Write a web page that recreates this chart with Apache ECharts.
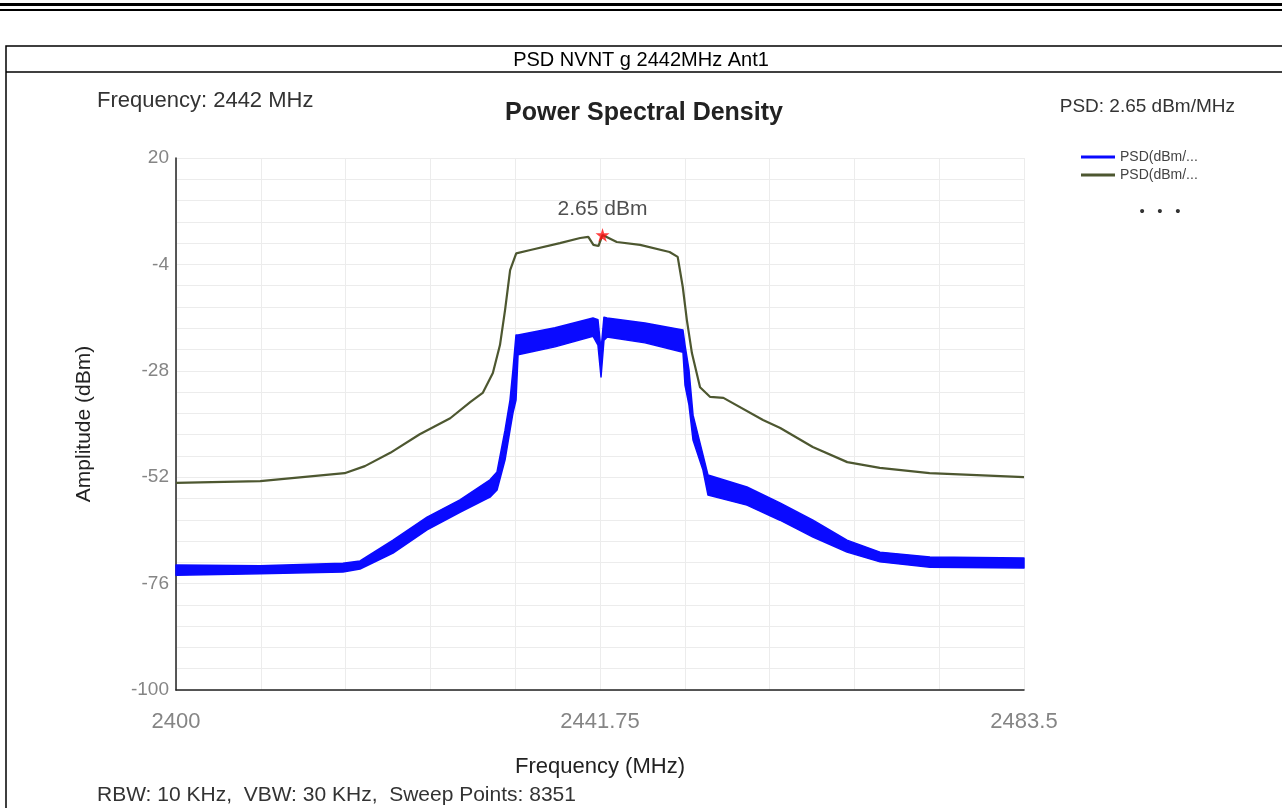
<!DOCTYPE html>
<html>
<head>
<meta charset="utf-8">
<script src="https://cdn.jsdelivr.net/npm/echarts@6/dist/echarts.min.js"></script>
<style>
html,body{margin:0;padding:0;background:#fff;}
#chart{width:1282px;height:808px;}
</style>
</head>
<body>
<div id="chart"></div>
<script>
// ---- data ----
const xTickLabels = [2400, 2441.75, 2483.5];
const yTicks = [-100, -76, -52, -28, -4, 20];

// max-hold trace (olive)
const freqGreen = [2400.0, 2408.3, 2416.6, 2418.6, 2421.1, 2424.0, 2427.0, 2429.0, 2430.2, 2431.2, 2431.9, 2432.4, 2432.9, 2433.5, 2434.9, 2437.8, 2439.8, 2440.6, 2441.1, 2441.6, 2442.0, 2443.4, 2445.7, 2448.6, 2449.4, 2449.9, 2450.3, 2450.8, 2451.6, 2452.6, 2453.9, 2457.8, 2459.5, 2462.7, 2466.1, 2469.3, 2474.2, 2483.5];
const psdGreen  = [-53.3, -52.9, -51.1, -49.5, -46.5, -42.3, -38.7, -35.0, -33.0, -28.5, -22.2, -14.3, -5.3, -1.5, -0.75, 0.8, 1.95, 2.2, 0.4, 0.15, 2.65, 1.05, 0.4, -1.2, -2.3, -9.1, -16.5, -24.0, -31.7, -33.9, -34.1, -39.1, -40.9, -45.2, -48.6, -49.9, -51.1, -52.0];

// noisy trace (blue) read as upper / lower envelope of the band
const freqBlue  = [2400.0, 2408.27, 2416.44, 2418.12, 2421.37, 2424.72, 2427.96, 2430.92, 2431.61, 2432.40, 2432.89, 2433.18, 2433.48, 2433.68, 2437.32, 2441.06, 2441.55, 2441.85, 2442.14, 2442.44, 2446.18, 2449.92, 2450.12, 2450.51, 2450.91, 2451.89, 2452.38, 2456.22, 2459.47, 2462.72, 2466.07, 2469.32, 2474.24, 2483.5];
const blueUpper = [-71.8, -72.0, -71.4, -70.9, -66.2, -61.0, -57.1, -52.6, -50.8, -41.4, -34.6, -27.8, -19.9, -19.9, -18.3, -16.1, -16.5, -23.3, -15.9, -16.1, -17.2, -18.8, -22.2, -27.8, -38.0, -47.0, -51.5, -54.2, -57.8, -61.7, -66.2, -68.9, -70.0, -70.2];
const blueLower = [-74.1, -73.8, -73.4, -72.7, -69.1, -63.9, -59.9, -56.5, -54.9, -48.1, -41.4, -37.5, -34.6, -24.4, -22.6, -20.2, -22.2, -29.4, -21.1, -20.4, -21.7, -23.8, -31.2, -35.7, -43.6, -50.4, -56.0, -58.3, -61.7, -65.5, -68.9, -71.1, -72.3, -72.5];

const peakFreq = 2442.0;
const peakVal = 2.65;

const seriesNames = ['PSD(dBm/MHz)', 'PSD(dBm/MHz) MaxHold'];

// ---- chart ----
const chart = echarts.init(document.getElementById('chart'), null, {renderer: 'canvas'});
const FONT = '"Liberation Sans", Arial, sans-serif';

const greenData = freqGreen.map((f, i) => [f, psdGreen[i]]);

const BLUE = '#0a0aff';
const OLIVE = '#4d5730';

function renderBand(params, api) {
  const pts = [];
  for (let i = 0; i < freqBlue.length; i++) pts.push(api.coord([freqBlue[i], blueUpper[i]]));
  for (let i = freqBlue.length - 1; i >= 0; i--) pts.push(api.coord([freqBlue[i], blueLower[i]]));
  return {
    type: 'polygon',
    shape: {points: pts},
    style: {fill: BLUE, stroke: BLUE, lineWidth: 1.5, lineJoin: 'round'}
  };
}

const option = {
  animation: false,
  backgroundColor: '#fff',
  grid: {left: 176, top: 158, right: 258, bottom: 118, containLabel: false},
  xAxis: [{
    type: 'value', min: 2400, max: 2483.5,
    name: 'Frequency (MHz)', nameLocation: 'middle', nameGap: 66,
    nameTextStyle: {fontFamily: FONT, fontSize: 22, color: '#222'},
    axisLine: {show: true, onZero: false, lineStyle: {color: '#222', width: 1.5}},
    axisTick: {show: false},
    splitLine: {show: false},
    axisLabel: {customValues: xTickLabels, margin: 21, fontFamily: FONT, fontSize: 22, color: '#858585',
      formatter: v => String(v)}
  }, {
    type: 'value', min: 0, max: 10, interval: 1, position: 'top',
    axisLine: {show: false}, axisTick: {show: false}, axisLabel: {show: false},
    splitLine: {show: true, lineStyle: {color: '#ececec', width: 1}}
  }],
  yAxis: {
    type: 'value', min: -100, max: 20, interval: 24,
    name: 'Amplitude (dBm)', nameLocation: 'middle', nameGap: 81, nameRotate: 90,
    nameTextStyle: {fontFamily: FONT, fontSize: 21, color: '#222'},
    axisLine: {show: true, onZero: false, lineStyle: {color: '#222', width: 1.5}},
    axisTick: {show: false},
    axisLabel: {margin: 7, fontFamily: FONT, fontSize: 19, color: '#858585'},
    splitLine: {show: true, lineStyle: {color: '#ececec', width: 1}},
    minorTick: {show: false, splitNumber: 5},
    minorSplitLine: {show: true, lineStyle: {color: '#ececec', width: 1}}
  },
  legend: {
    orient: 'vertical', left: 1076, top: 145, itemGap: 4,
    itemWidth: 34, itemHeight: 3, icon: 'rect',
    data: seriesNames,
    textStyle: {fontFamily: FONT, fontSize: 14, color: '#444', width: 86, overflow: 'truncate', ellipsis: '...'},
    selectedMode: false
  },
  series: [
    {
      name: seriesNames[0], type: 'custom', renderItem: renderBand,
      data: [[freqBlue[0], blueUpper[0]]], color: BLUE, itemStyle: {color: BLUE}, z: 3, silent: true
    },
    {
      name: seriesNames[1], type: 'line', data: greenData, symbol: 'none',
      color: OLIVE, lineStyle: {color: OLIVE, width: 2.2}, z: 4
    },
    {
      name: 'peak', type: 'scatter', data: [[peakFreq, peakVal]], z: 6,
      symbol: 'path://M50,0 L61,35 L98,35 L68,57 L79,91 L50,70 L21,91 L32,57 L2,35 L39,35 Z',
      symbolSize: 14, itemStyle: {color: '#ff1010'},
      label: {show: true, position: 'top', distance: 8, formatter: () => peakVal + ' dBm',
        fontFamily: FONT, fontSize: 21, color: '#222'}
    }
  ],
  graphic: [
    {type: 'rect', shape: {x: 0, y: 3, width: 1282, height: 3}, style: {fill: '#000'}, silent: true},
    {type: 'rect', shape: {x: 0, y: 9, width: 1282, height: 2}, style: {fill: '#000'}, silent: true},
    {type: 'rect', shape: {x: 6, y: 46, width: 1290, height: 800}, style: {fill: 'none', stroke: '#000', lineWidth: 1.5}, silent: true},
    {type: 'line', shape: {x1: 6, y1: 72, x2: 1282, y2: 72}, style: {stroke: '#000', lineWidth: 1.5}, silent: true},
    {type: 'text', x: 641, y: 60, style: {text: 'PSD NVNT g 2442MHz Ant1', font: '20px ' + FONT, fill: '#000', textAlign: 'center', textVerticalAlign: 'middle'}},
    {type: 'text', x: 97, y: 101, style: {text: 'Frequency: 2442 MHz', font: '22px ' + FONT, fill: '#333', textAlign: 'left', textVerticalAlign: 'middle'}},
    {type: 'text', x: 1235, y: 107, style: {text: 'PSD: 2.65 dBm/MHz', font: '19px ' + FONT, fill: '#333', textAlign: 'right', textVerticalAlign: 'middle'}},
    {type: 'text', x: 644, y: 113, style: {text: 'Power Spectral Density', font: 'bold 25px ' + FONT, fill: '#222', textAlign: 'center', textVerticalAlign: 'middle'}},
    {type: 'text', x: 1160, y: 212, style: {text: '\u2022   \u2022   \u2022', font: '15px ' + FONT, fill: '#333', textAlign: 'center', textVerticalAlign: 'middle'}},
    {type: 'text', x: 97, y: 795, style: {text: 'RBW: 10 KHz,  VBW: 30 KHz,  Sweep Points: 8351', font: '21px ' + FONT, fill: '#333', textAlign: 'left', textVerticalAlign: 'middle'}}
  ]
};
chart.setOption(option);
</script>
</body>
</html>
